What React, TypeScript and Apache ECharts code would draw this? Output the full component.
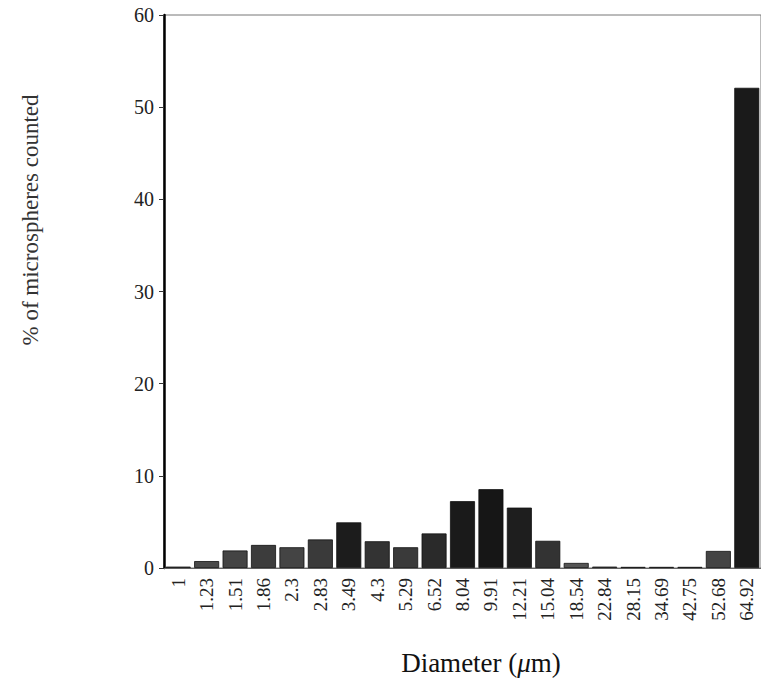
import React, { useEffect, useRef } from "react";
import * as echarts from "echarts";

const diameters = ["1", "1.23", "1.51", "1.86", "2.3", "2.83", "3.49", "4.3", "5.29", "6.52", "8.04", "9.91", "12.21", "15.04", "18.54", "22.84", "28.15", "34.69", "42.75", "52.68", "64.92"];
const percents = [0.15, 0.75, 1.9, 2.5, 2.25, 3.1, 4.95, 2.9, 2.25, 3.75, 7.25, 8.55, 6.55, 2.95, 0.55, 0.15, 0.12, 0.12, 0.12, 1.85, 52.1];
const yTicks = [0, 10, 20, 30, 40, 50, 60];

// shading (style only): darker halftone for some bars
const shades = ["#555", "#4a4a4a", "#444", "#3c3c3c", "#444", "#3a3a3a", "#1c1c1c", "#333", "#3a3a3a", "#2a2a2a", "#1a1a1a", "#161616", "#1e1e1e", "#333", "#555", "#666", "#666", "#666", "#666", "#444", "#1a1a1a"];

const FONT = "'Liberation Serif', 'DejaVu Serif', serif";

export default function App() {
  const ref = useRef<HTMLDivElement>(null);
  useEffect(() => {
    if (!ref.current) return;
    const chart = echarts.init(ref.current, null, { renderer: "svg" });
    chart.setOption({
      animation: false,
      backgroundColor: "#fff",
      grid: {
        left: 164,
        right: -3,
        top: 15,
        bottom: 118,
        show: true,
        borderColor: "#777",
        borderWidth: 1,
      },
      xAxis: {
        type: "category",
        data: diameters,
        axisLine: { show: true, lineStyle: { color: "#666", width: 1 } },
        axisTick: { show: false },
        axisLabel: {
          rotate: 90,
          interval: 0,
          margin: 10,
          fontFamily: FONT,
          fontSize: 19,
          color: "#222",
        },
      },
      yAxis: {
        type: "value",
        min: yTicks[0],
        max: yTicks[yTicks.length - 1],
        interval: 10,
        splitLine: { show: false },
        axisLine: { show: true, lineStyle: { color: "#000", width: 2.5 } },
        axisTick: { show: true, length: 5, lineStyle: { color: "#333", width: 1 } },
        axisLabel: {
          margin: 10,
          fontFamily: FONT,
          fontSize: 20,
          color: "#222",
        },
      },
      series: [
        {
          type: "bar",
          barWidth: 25,
          data: percents.map((v, i) => ({
            value: v,
            itemStyle: { color: shades[i], borderColor: "#111", borderWidth: 0.8 },
          })),
        },
      ],
      graphic: [
        {
          type: "text",
          x: 30,
          y: 220,
          rotation: Math.PI / 2,
          style: {
            text: "% of microspheres counted",
            fontFamily: FONT,
            fontSize: 23,
            fill: "#333",
            align: "center",
            verticalAlign: "middle",
          },
        },
        {
          type: "text",
          x: 481,
          y: 663,
          style: {
            text: "{n|Diameter (}{i|μ}{n|m)}",
            align: "center",
            verticalAlign: "middle",
            rich: {
              n: { fontFamily: FONT, fontSize: 27, fill: "#111" },
              i: { fontFamily: FONT, fontSize: 27, fontStyle: "italic", fill: "#111" },
            },
          },
        },
      ],
    });
    return () => chart.dispose();
  }, []);
  return (
    <div
      ref={ref}
      style={{ position: "absolute", left: 0, top: 0, width: 761, height: 686 }}
    />
  );
}
